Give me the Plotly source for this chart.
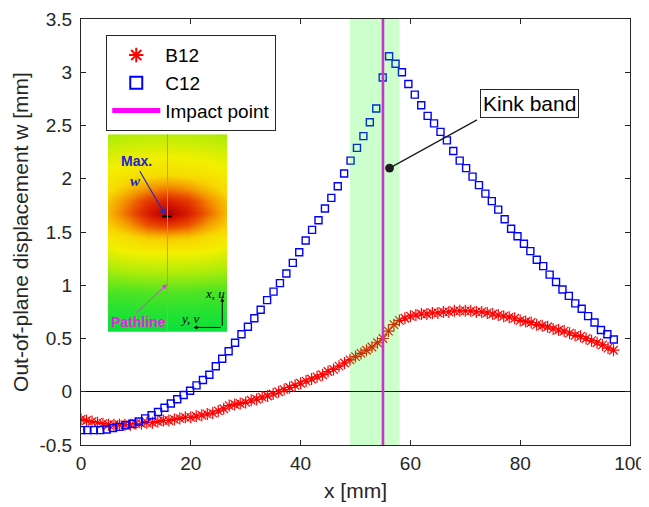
import plotly.graph_objects as go

# ---------------- data ----------------
b12_x = list(range(0, 98))
b12_y = [-0.26, -0.27, -0.28, -0.29, -0.30, -0.31, -0.31, -0.31, -0.31, -0.31,
         -0.30, -0.30, -0.29, -0.29, -0.28, -0.27, -0.27, -0.26, -0.25, -0.24,
         -0.24, -0.23, -0.22, -0.21, -0.20, -0.18, -0.16, -0.13, -0.12, -0.11,
         -0.10, -0.08, -0.07, -0.05, -0.04, -0.02, 0.00, 0.02, 0.04, 0.06,
         0.08, 0.10, 0.12, 0.14, 0.16, 0.19, 0.21, 0.24, 0.27, 0.30,
         0.33, 0.36, 0.39, 0.42, 0.46, 0.50, 0.57, 0.63, 0.67, 0.69,
         0.71, 0.72, 0.73, 0.73, 0.74, 0.74, 0.75, 0.75, 0.76, 0.76,
         0.76, 0.76, 0.75, 0.75, 0.74, 0.73, 0.72, 0.71, 0.70, 0.69,
         0.67, 0.66, 0.65, 0.63, 0.62, 0.61, 0.59, 0.58, 0.57, 0.55,
         0.53, 0.52, 0.50, 0.48, 0.46, 0.44, 0.41, 0.39]

c12_x = [0.0, 1.17, 2.34, 3.51, 4.68, 5.84, 7.01, 8.18, 9.35, 10.52,
         11.69, 12.86, 14.03, 15.20, 16.36, 17.53, 18.70, 19.87, 21.04, 22.21,
         23.38, 24.55, 25.72, 26.89, 28.06, 29.23, 30.40, 31.57, 32.73, 33.90,
         35.07, 36.24, 37.41, 38.58, 39.75, 40.92, 42.09, 43.26, 44.43, 45.60,
         46.77, 47.93, 49.10, 50.27, 51.44, 52.61, 53.78, 54.95, 56.12, 57.29,
         58.46, 59.63, 60.80, 61.97, 63.14, 64.31, 65.48, 66.65, 67.81, 68.98,
         70.15, 71.32, 72.49, 73.66, 74.83, 76.00, 77.17, 78.34, 79.51, 80.68,
         81.85, 83.02, 84.19, 85.36, 86.53, 87.70, 88.86, 90.03, 91.20, 92.37,
         93.54, 94.71, 95.88, 97.05]
c12_y = [-0.36, -0.36, -0.36, -0.36, -0.355, -0.34, -0.33, -0.315, -0.30, -0.28,
         -0.25, -0.22, -0.19, -0.15, -0.11, -0.07, -0.03, 0.01, 0.06, 0.11,
         0.16, 0.24, 0.31, 0.38, 0.46, 0.54, 0.61, 0.69, 0.77, 0.86,
         0.94, 1.02, 1.11, 1.21, 1.31, 1.42, 1.52, 1.61, 1.72, 1.82,
         1.93, 2.05, 2.17, 2.29, 2.40, 2.53, 2.66, 2.95, 3.15, 3.08,
         3.00, 2.89, 2.79, 2.69, 2.59, 2.52, 2.44, 2.36, 2.26, 2.17,
         2.10, 2.02, 1.94, 1.86, 1.79, 1.71, 1.62, 1.53, 1.46, 1.39,
         1.32, 1.24, 1.18, 1.10, 1.03, 0.96, 0.90, 0.83, 0.78, 0.71,
         0.65, 0.58, 0.54, 0.49]

impact_x = 55
kink_band = [49, 58]
kink_point = [56.2, 2.1]

x_ticks = [0, 20, 40, 60, 80, 100]
y_ticks = [-0.5, 0, 0.5, 1, 1.5, 2, 2.5, 3, 3.5]
y_ticktext = ["-0.5", "0", "0.5", "1", "1.5", "2", "2.5", "3", "3.5"]

# inset contour picture (hand-read intensity grid, top row first)
inset_x = [0, 1/6, 2/6, 3/6, 4/6, 5/6, 1]
inset_y = [1.0, 0.9, 0.8, 0.72, 0.66, 0.6, 0.54, 0.48, 0.4, 0.3, 0.2, 0.1, 0.0]
inset_z = [
    [0.29, 0.31, 0.32, 0.32, 0.32, 0.31, 0.29],
    [0.37, 0.39, 0.40, 0.41, 0.40, 0.39, 0.37],
    [0.44, 0.47, 0.49, 0.50, 0.49, 0.47, 0.44],
    [0.49, 0.57, 0.65, 0.69, 0.65, 0.57, 0.49],
    [0.55, 0.67, 0.81, 0.87, 0.81, 0.67, 0.55],
    [0.57, 0.72, 0.88, 1.00, 0.88, 0.72, 0.57],
    [0.53, 0.62, 0.75, 0.80, 0.75, 0.62, 0.53],
    [0.46, 0.50, 0.55, 0.56, 0.55, 0.50, 0.46],
    [0.38, 0.41, 0.42, 0.42, 0.42, 0.41, 0.38],
    [0.27, 0.29, 0.30, 0.30, 0.30, 0.29, 0.27],
    [0.14, 0.14, 0.15, 0.15, 0.15, 0.14, 0.14],
    [0.06, 0.065, 0.07, 0.07, 0.07, 0.065, 0.06],
    [0.02, 0.02, 0.02, 0.02, 0.02, 0.02, 0.02],
]

FONT = "Liberation Sans, Arial, sans-serif"
DARK = "rgb(38,38,38)"

fig = go.Figure()

fig.add_trace(go.Scatter(
    x=b12_x, y=b12_y, mode="markers", name="B12",
    marker=dict(symbol="asterisk-open", size=10, color="red",
                line=dict(color="red", width=1.2)),
))
fig.add_trace(go.Scatter(
    x=c12_x, y=c12_y, mode="markers", name="C12",
    marker=dict(symbol="square-open", size=7, color="blue",
                line=dict(color="blue", width=1.4)),
))
fig.add_trace(go.Scatter(
    x=[impact_x, impact_x], y=[y_ticks[0], y_ticks[-1]], mode="lines",
    name="Impact point", line=dict(color="magenta", width=2.6),
))

# inset heatmap
fig.add_trace(go.Heatmap(
    x=inset_x, y=inset_y, z=inset_z, xaxis="x2", yaxis="y2",
    zmin=0, zmax=1, zsmooth="best", showscale=False, hoverinfo="skip",
    colorscale=[[0.0, "rgb(0,224,64)"], [0.15, "rgb(80,228,35)"],
                [0.3, "rgb(175,236,10)"], [0.42, "rgb(242,240,0)"],
                [0.52, "rgb(247,215,0)"], [0.62, "rgb(245,160,0)"],
                [0.75, "rgb(235,80,0)"], [0.88, "rgb(215,25,0)"],
                [1.0, "rgb(170,0,0)"]],
    showlegend=False,
))
fig.add_trace(go.Scatter(
    x=[0.493], y=[0.583], xaxis="x2", yaxis="y2", mode="markers",
    marker=dict(symbol="line-ew", size=7, line=dict(color="black", width=2)),
    showlegend=False, hoverinfo="skip",
))

shapes = [
    dict(type="rect", xref="x", yref="y", x0=kink_band[0], x1=kink_band[1],
         y0=y_ticks[0], y1=y_ticks[-1], fillcolor="rgba(0,255,0,0.2)",
         line=dict(width=0), layer="above"),
    dict(type="line", xref="x2", yref="y2", x0=0.5, x1=0.5, y0=0, y1=1,
         line=dict(color="rgb(205,130,175)", width=1), layer="above"),
]

annotations = [
    dict(x=81.7, y=2.71, xref="x", yref="y", text="Kink band", showarrow=False,
         font=dict(family=FONT, size=21, color="black"),
         bordercolor=DARK, borderwidth=1, borderpad=2, bgcolor="white"),
    dict(x=kink_point[0], y=kink_point[1], xref="x", yref="y",
         ax=72.4, ay=2.56, axref="x", ayref="y", text="", showarrow=True,
         arrowhead=6, arrowsize=1.7, arrowwidth=1.3, arrowcolor="rgb(30,30,30)"),
    # inset annotations
    dict(x=0.24, y=0.864, xref="x2", yref="y2", text="<b>Max.</b>", showarrow=False,
         font=dict(family=FONT, size=14, color="rgb(35,35,215)")),
    dict(x=0.235, y=0.764, xref="x2", yref="y2", text="<b><i>w</i></b>", showarrow=False,
         font=dict(family="Liberation Serif, serif", size=15, color="rgb(35,35,215)")),
    dict(x=0.479, y=0.593, xref="x2", yref="y2", ax=0.26, ay=0.82,
         axref="x2", ayref="y2", text="", showarrow=True, arrowhead=2,
         arrowsize=1, arrowwidth=1.2, arrowcolor="rgb(40,40,200)"),
    dict(x=0.256, y=0.05, xref="x2", yref="y2", text="<b>Pathline</b>", showarrow=False,
         font=dict(family=FONT, size=14, color="rgb(225,40,225)")),
    dict(x=0.496, y=0.241, xref="x2", yref="y2", ax=0.227, ay=0.09,
         axref="x2", ayref="y2", text="", showarrow=True, arrowhead=2,
         arrowsize=1, arrowwidth=1, arrowcolor="rgb(215,60,215)"),
    dict(x=0.9, y=0.196, xref="x2", yref="y2", text="<i>x, u</i>", showarrow=False,
         font=dict(family="Liberation Serif, serif", size=13, color="black")),
    dict(x=0.69, y=0.065, xref="x2", yref="y2", text="<i>y, v</i>", showarrow=False,
         font=dict(family="Liberation Serif, serif", size=13, color="black")),
    dict(x=0.96, y=0.172, xref="x2", yref="y2", ax=0.96, ay=0.022,
         axref="x2", ayref="y2", text="", showarrow=True, arrowhead=2,
         arrowsize=0.8, arrowwidth=1, arrowcolor="black"),
    dict(x=0.717, y=0.022, xref="x2", yref="y2", ax=0.96, ay=0.022,
         axref="x2", ayref="y2", text="", showarrow=True, arrowhead=2,
         arrowsize=0.8, arrowwidth=1, arrowcolor="black"),
]

axis_common = dict(
    showline=True, linecolor=DARK, linewidth=1, mirror="ticks",
    ticks="inside", ticklen=5, tickcolor=DARK, showgrid=False, automargin=False,
    ticklabeloverflow="allow",
    tickfont=dict(family=FONT, size=19, color=DARK),
)

# the page body adds an 8 px offset, so the figure is 8 px smaller than the window
fig.update_layout(
    width=641, height=499,
    margin=dict(l=73, r=19, t=11, b=62, autoexpand=False),
    paper_bgcolor="white", plot_bgcolor="white",
    font=dict(family=FONT, color=DARK),
    xaxis=dict(range=[0, 100], tickvals=x_ticks, zeroline=False,
               title=dict(text="x [mm]", font=dict(family=FONT, size=21, color=DARK),
                          standoff=10),
               ticklabelstandoff=1, **axis_common),
    yaxis=dict(range=[-0.5, 3.5], tickvals=y_ticks, ticktext=y_ticktext,
               zeroline=True, zerolinecolor="black", zerolinewidth=1,
               title=dict(text="Out-of-plane displacement w [mm]",
                          font=dict(family=FONT, size=21, color=DARK), standoff=5),
               ticklabelstandoff=4, **axis_common),
    xaxis2=dict(domain=[0.0492, 0.266], range=[0, 1], anchor="y2", visible=False,
                fixedrange=True),
    yaxis2=dict(domain=[0.2657, 0.7296], range=[0, 1], anchor="x2", visible=False,
                fixedrange=True),
    legend=dict(x=0.046, y=0.962, xanchor="left", yanchor="top",
                bgcolor="white", bordercolor=DARK, borderwidth=1,
                font=dict(family=FONT, size=19, color="black"),
                tracegroupgap=0, itemsizing="constant", itemwidth=48),
    shapes=shapes,
    annotations=annotations,
)

fig.write_html("out.html")
